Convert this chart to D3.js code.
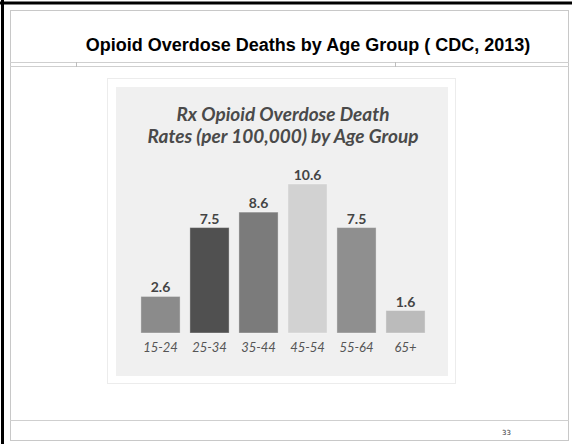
<!DOCTYPE html>
<html>
<head>
<meta charset="utf-8">
<script src="https://cdn.jsdelivr.net/npm/d3@7"></script>
<style>
  body { margin: 0; background: #fff; }
</style>
</head>
<body>
<div id="chart"></div>
<script>
// data
const ageGroups = ["15-24", "25-34", "35-44", "45-54", "55-64", "65+"];
const deathRates = [2.6, 7.5, 8.6, 10.6, 7.5, 1.6];
const barColors = ["#8b8b8b", "#505050", "#7b7b7b", "#d2d2d2", "#8f8f8f", "#bbbbbb"];

const width = 572;
const height = 444;

const svg = d3.select("#chart").append("svg")
  .attr("width", width)
  .attr("height", height);

// slide frame
svg.append("rect")
  .attr("x", 0).attr("y", 0)
  .attr("width", width).attr("height", height)
  .attr("fill", "#fff");
svg.append("line")
  .attr("x1", 0).attr("x2", width)
  .attr("y1", 3).attr("y2", 3)
  .attr("stroke", "#000").attr("stroke-width", 3);
svg.append("line")
  .attr("x1", 2.5).attr("x2", 2.5)
  .attr("y1", 0).attr("y2", height)
  .attr("stroke", "#000").attr("stroke-width", 3);
svg.append("rect")
  .attr("x", 10.5).attr("y", 10.5)
  .attr("width", 558).attr("height", 430)
  .attr("fill", "none")
  .attr("stroke", "#c8c8c8");

// title separator (double line with ticks)
svg.append("line")
  .attr("x1", 10).attr("x2", 569)
  .attr("y1", 62.5).attr("y2", 62.5)
  .attr("stroke", "#cfcfcf");
svg.append("line")
  .attr("x1", 10).attr("x2", 569)
  .attr("y1", 66.5).attr("y2", 66.5)
  .attr("stroke", "#cfcfcf");
[76.5, 395.5].forEach(x => {
  svg.append("line")
    .attr("x1", x).attr("x2", x)
    .attr("y1", 62).attr("y2", 67)
    .attr("stroke", "#bdbdbd");
});

// footer
svg.append("line")
  .attr("x1", 10).attr("x2", 569)
  .attr("y1", 420.5).attr("y2", 420.5)
  .attr("stroke", "#cfcfcf");
svg.append("text")
  .attr("x", 511).attr("y", 435)
  .attr("text-anchor", "end")
  .attr("font-family", "DejaVu Sans, sans-serif")
  .attr("font-size", 7)
  .attr("fill", "#333")
  .text("33");

// slide title
svg.append("text")
  .attr("x", 308).attr("y", 51)
  .attr("text-anchor", "middle")
  .attr("font-family", "Liberation Sans, Arial, sans-serif")
  .attr("font-weight", "bold")
  .attr("font-size", 18)
  .attr("fill", "#000")
  .text("Opioid Overdose Deaths by Age Group ( CDC, 2013)");

// picture panel
svg.append("rect")
  .attr("x", 107.5).attr("y", 78.5)
  .attr("width", 348).attr("height", 305)
  .attr("fill", "#fff")
  .attr("stroke", "#ececec");
svg.append("rect")
  .attr("x", 116).attr("y", 87)
  .attr("width", 332).attr("height", 289)
  .attr("fill", "#f0f0f0");

const cx = 283;
const sub = svg.append("text")
  .attr("text-anchor", "middle")
  .attr("font-family", "Lato, sans-serif")
  .attr("font-weight", "bold")
  .attr("font-style", "italic")
  .attr("font-size", 19)
  .attr("fill", "#4a4a4a");
sub.append("tspan").attr("x", cx).attr("y", 121).text("Rx Opioid Overdose Death");
sub.append("tspan").attr("x", cx).attr("y", 143).text("Rates (per 100,000) by Age Group");

// scales
const x = d3.scaleBand()
  .domain(ageGroups)
  .range([136, 430])
  .paddingInner(0.2)
  .paddingOuter(0.1);

const y = d3.scaleLinear()
  .domain([0, 10.6])
  .range([333, 184]);

const color = d3.scaleOrdinal()
  .domain(ageGroups)
  .range(barColors);

const rows = ageGroups.map((g, i) => ({ group: g, value: deathRates[i] }));

svg.append("g").selectAll("rect")
  .data(rows)
  .join("rect")
  .attr("x", d => x(d.group))
  .attr("y", d => y(d.value))
  .attr("width", x.bandwidth())
  .attr("height", d => y(0) - y(d.value))
  .attr("fill", d => color(d.group))
  .attr("stroke", "rgba(255,255,255,0.35)")
  .attr("stroke-width", 1);

svg.append("g").selectAll("text")
  .data(rows)
  .join("text")
  .attr("x", d => x(d.group) + x.bandwidth() / 2)
  .attr("y", d => y(d.value) - 4)
  .attr("text-anchor", "middle")
  .attr("font-family", "Lato, sans-serif")
  .attr("font-weight", "bold")
  .attr("font-size", 14)
  .attr("fill", "#444")
  .text(d => d.value.toFixed(1));

// category axis (labels only)
const xAxis = svg.append("g")
  .attr("transform", "translate(0,333)")
  .call(d3.axisBottom(x).tickSize(0).tickPadding(10));
xAxis.select(".domain").remove();
xAxis.selectAll("text")
  .attr("font-family", "Lato, sans-serif")
  .attr("font-style", "italic")
  .attr("font-size", 13)
  .attr("fill", "#555");
</script>
</body>
</html>
